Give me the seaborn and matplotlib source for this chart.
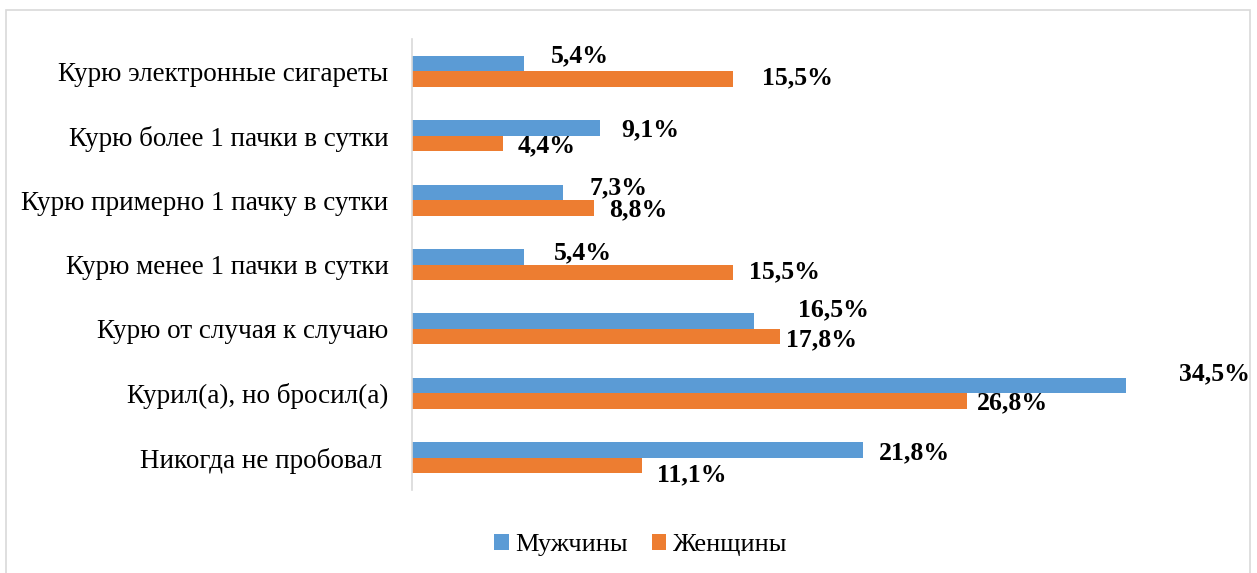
import matplotlib
matplotlib.use("Agg")
import matplotlib.pyplot as plt
import seaborn as sns
import pandas as pd
from matplotlib.patches import Rectangle

categories = [
    "Курю электронные сигареты",
    "Курю более 1 пачки в сутки",
    "Курю примерно 1 пачку в сутки",
    "Курю менее 1 пачки в сутки",
    "Курю от случая к случаю",
    "Курил(а), но бросил(а)",
    "Никогда не пробовал ",
]
men = [5.4, 9.1, 7.3, 5.4, 16.5, 34.5, 21.8]
women = [15.5, 4.4, 8.8, 15.5, 17.8, 26.8, 11.1]
series = ["Мужчины", "Женщины"]
colors = ["#5B9BD5", "#ED7D31"]

# label offsets (pixels) from bar end, per series
men_off = [(56, 8), (50, -2), (55, 5), (59, 4), (80, 11), (88, 12), (51, -3)]
women_off = [(65, 1), (44, -2), (44, -2), (52, 0), (41, -3), (46, -2), (50, -9)]

df = pd.DataFrame({
    "cat": categories * 2,
    "val": men + women,
    "sex": [series[0]] * len(categories) + [series[1]] * len(categories),
})

sns.set_style("white")
plt.rcParams["font.family"] = ["Liberation Serif", "DejaVu Serif"]
plt.rcParams["text.color"] = "black"
plt.rcParams["ytick.color"] = "black"
plt.rcParams["ytick.labelcolor"] = "black"

W, H = 1257, 573
fig = plt.figure(figsize=(W / 100, H / 100), dpi=100)
ax = fig.add_axes([412 / W, 1 - 490 / H, (1240 - 412) / W, (490 - 39) / H])

sns.barplot(data=df, y="cat", x="val", hue="sex", orient="h", palette=colors,
            saturation=1, width=0.48, linewidth=0, ax=ax, order=categories,
            hue_order=series)

ax.set_xlim(0, 40)
ax.set_ylim(6.5, -0.5)
ax.set_xlabel("")
ax.set_ylabel("")
ax.set_xticks([])
for s in ["top", "right", "bottom"]:
    ax.spines[s].set_visible(False)
ax.spines["left"].set_color("#D9D9D9")
ax.spines["left"].set_linewidth(1.2)
ax.tick_params(axis="y", length=0, pad=17, labelsize=19.5, labelcolor="black")

for cont, offs in zip(ax.containers, [men_off, women_off]):
    for bar, (dx, dy) in zip(cont, offs):
        v = bar.get_width()
        yc = bar.get_y() + bar.get_height() / 2
        ax.annotate(f"{v:.1f}%".replace(".", ","), (v, yc),
                    xytext=(dx, dy), textcoords="offset pixels",
                    ha="center", va="center", fontsize=18.5, fontweight="bold",
                    color="black", annotation_clip=False)

leg = ax.legend(loc="center", bbox_to_anchor=(641 / W, 1 - 545 / H),
                bbox_transform=fig.transFigure, ncol=2, frameon=False,
                fontsize=19, handlelength=0.55, handleheight=0.55,
                handletextpad=0.25, columnspacing=0.9)
for t in leg.get_texts():
    t.set_color("black")

fig.patches.append(Rectangle((6 / W, -0.05), (1250 - 6) / W, 1 - 10 / H + 0.05,
                             transform=fig.transFigure, fill=False,
                             edgecolor="#D9D9D9", linewidth=1.2))

fig.savefig("out.png", dpi=100)
